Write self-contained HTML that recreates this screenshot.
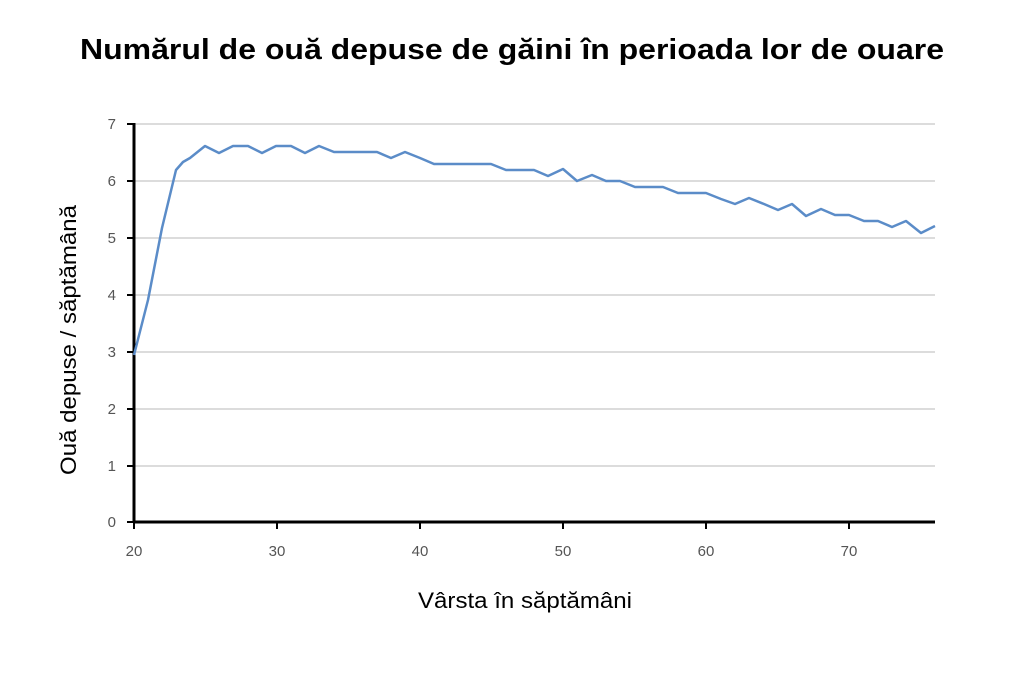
<!DOCTYPE html>
<html><head><meta charset="utf-8"><style>body{margin:0;background:#fff}</style></head><body>
<svg width="1024" height="683" xmlns="http://www.w3.org/2000/svg" font-family="Liberation Sans, sans-serif">
<rect width="1024" height="683" fill="#fff"/>
<text x="512" y="59" text-anchor="middle" font-size="29" font-weight="bold" fill="#000" textLength="864" lengthAdjust="spacingAndGlyphs">Numărul de ouă depuse de găini în perioada lor de ouare</text>
<g stroke="#d0d0d0" stroke-width="1.5">
<line x1="134" y1="124" x2="935" y2="124"/><line x1="134" y1="181" x2="935" y2="181"/>
<line x1="134" y1="238" x2="935" y2="238"/><line x1="134" y1="295" x2="935" y2="295"/>
<line x1="134" y1="352" x2="935" y2="352"/><line x1="134" y1="409" x2="935" y2="409"/>
<line x1="134" y1="466" x2="935" y2="466"/></g>
<g stroke="#000" stroke-width="3"><line x1="134" y1="123" x2="134" y2="523"/><line x1="133" y1="522" x2="935" y2="522"/></g>
<g stroke="#000" stroke-width="2">
<line x1="127" y1="124" x2="134" y2="124"/><line x1="127" y1="181" x2="134" y2="181"/><line x1="127" y1="238" x2="134" y2="238"/><line x1="127" y1="295" x2="134" y2="295"/><line x1="127" y1="352" x2="134" y2="352"/><line x1="127" y1="409" x2="134" y2="409"/><line x1="127" y1="466" x2="134" y2="466"/><line x1="127" y1="522" x2="134" y2="522"/>
<line x1="134" y1="522" x2="134" y2="529"/><line x1="277" y1="522" x2="277" y2="529"/><line x1="420" y1="522" x2="420" y2="529"/><line x1="563" y1="522" x2="563" y2="529"/><line x1="706" y1="522" x2="706" y2="529"/><line x1="849" y1="522" x2="849" y2="529"/></g>
<g font-size="15" fill="#555" text-anchor="end">
<text x="116" y="129">7</text><text x="116" y="186">6</text><text x="116" y="243">5</text><text x="116" y="300">4</text><text x="116" y="357">3</text><text x="116" y="414">2</text><text x="116" y="471">1</text><text x="116" y="527">0</text></g>
<g font-size="15" fill="#555" text-anchor="middle">
<text x="134" y="556">20</text><text x="277" y="556">30</text><text x="420" y="556">40</text><text x="563" y="556">50</text><text x="706" y="556">60</text><text x="849" y="556">70</text></g>
<polyline fill="none" stroke="#5b8cc8" stroke-width="2.5" stroke-linejoin="round" points="134,355 148,300 162,228 176,170 183,162 190,158 205,146 219,153 233,146 248,146 262,153 276,146 291,146 305,153 319,146 334,152 348,152 362,152 377,152 391,158 405,152 420,158 434,164 448,164 463,164 477,164 491,164 506,170 520,170 534,170 548,176 563,169 577,181 592,175 606,181 620,181 635,187 649,187 663,187 678,193 692,193 706,193 721,199 735,204 749,198 764,204 778,210 792,204 806,216 821,209 835,215 849,215 864,221 878,221 892,227 906,221 921,233 935,226"/>
<text x="525" y="608" text-anchor="middle" font-size="22" fill="#000" textLength="214" lengthAdjust="spacingAndGlyphs">Vârsta în săptămâni</text>
<text transform="translate(76,340) rotate(-90)" text-anchor="middle" font-size="22" fill="#000" textLength="270" lengthAdjust="spacingAndGlyphs">Ouă depuse / săptămână</text>
</svg>
</body></html>
